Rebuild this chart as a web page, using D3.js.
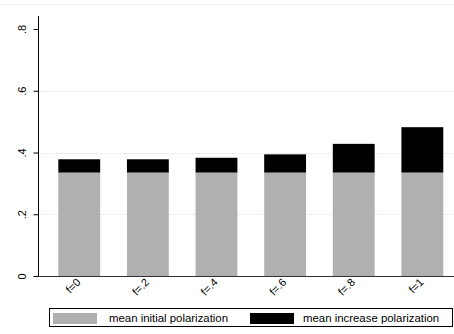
<!DOCTYPE html>
<html>
<head>
<meta charset="utf-8">
<script src="https://cdn.jsdelivr.net/npm/d3@7"></script>
<style>
  body { margin: 0; background: #fff; }
  svg { display: block; font-family: "Liberation Sans", Arial, sans-serif; }
</style>
</head>
<body>
<svg id="chart" width="454" height="334"></svg>
<script>
var categories = ["f=0", "f=.2", "f=.4", "f=.6", "f=.8", "f=1"];
var initialPol = [0.335, 0.335, 0.335, 0.335, 0.335, 0.335];
var increasePol = [0.043, 0.043, 0.048, 0.059, 0.093, 0.147];
var yTicks = [0, 0.2, 0.4, 0.6, 0.8];
var yTickLabels = ["0", ".2", ".4", ".6", ".8"];
var seriesNames = ["mean initial polarization", "mean increase polarization"];
var colors = ["#b0b0b0", "#000000"];

var svg = d3.select("#chart");
var width = +svg.attr("width");

var data = categories.map(function(c, i) {
    return { cat: c, initial: initialPol[i], increase: increasePol[i] };
});
var stack = d3.stack().keys(["initial", "increase"])(data);

var x = d3.scaleBand()
    .domain(categories)
    .range([44.6, 457])
    .paddingInner(0.39)
    .paddingOuter(0.2);

var y = d3.scaleLinear()
    .domain([0, 0.8])
    .range([276, 29]);

// faint top border line
svg.append("line")
    .attr("x1", 0).attr("x2", width)
    .attr("y1", 4.5).attr("y2", 4.5)
    .attr("stroke", "#eef3f3");

// gridlines
svg.append("g")
    .selectAll("line")
    .data(yTicks.filter(function(d) { return d > 0 && d < 0.8; }))
    .join("line")
    .attr("x1", 38).attr("x2", width)
    .attr("y1", function(d) { return Math.round(y(d)) + 0.5; })
    .attr("y2", function(d) { return Math.round(y(d)) + 0.5; })
    .attr("stroke", "#e8f0f0");

// bars
svg.append("g")
    .selectAll("g")
    .data(stack)
    .join("g")
    .attr("fill", function(d, i) { return colors[i]; })
    .selectAll("rect")
    .data(function(d) { return d; })
    .join("rect")
    .attr("x", function(d) { return x(d.data.cat); })
    .attr("y", function(d) { return y(d[1]); })
    .attr("width", x.bandwidth())
    .attr("height", function(d) { return y(d[0]) - y(d[1]); });

// Y axis
var yAxis = svg.append("g")
    .attr("transform", "translate(38.5,0)")
    .call(d3.axisLeft(y).tickValues(yTicks)
        .tickFormat(function(d, i) { return yTickLabels[i]; })
        .tickSize(5).tickPadding(4));
yAxis.select(".domain").attr("d", "M0,16V276.5");
yAxis.selectAll(".tick line").attr("stroke", "#000");
yAxis.selectAll(".tick text")
    .attr("transform", "rotate(-90)")
    .attr("x", 0).attr("y", -13)
    .attr("dy", 0)
    .attr("text-anchor", "middle")
    .attr("fill", "#000")
    .style("font-size", "11px");

// X axis
var xAxis = svg.append("g")
    .attr("transform", "translate(0,276.5)")
    .call(d3.axisBottom(x).tickSize(0).tickPadding(0));
xAxis.select(".domain").attr("d", "M38,0H" + width).attr("stroke", "#333");
xAxis.selectAll(".tick text")
    .attr("transform", "translate(2,6.5) rotate(-45)")
    .attr("y", 0).attr("dy", 0)
    .attr("text-anchor", "end")
    .attr("fill", "#000")
    .style("font-size", "11px");

// legend
var legend = svg.append("g");
legend.append("rect")
    .attr("x", 49.5).attr("y", 308.5)
    .attr("width", 403).attr("height", 18)
    .attr("fill", "#fff")
    .attr("stroke", "#000");
var legendItems = [
    { sx: 53, tx: 109 },
    { sx: 250, tx: 303 }
];
legend.selectAll("g.item")
    .data(seriesNames)
    .join("g")
    .attr("class", "item")
    .each(function(name, i) {
        var g = d3.select(this);
        g.append("rect")
            .attr("x", legendItems[i].sx).attr("y", 313)
            .attr("width", 44).attr("height", 11)
            .attr("fill", colors[i]);
        g.append("text")
            .attr("x", legendItems[i].tx).attr("y", 322)
            .style("font-size", "11.4px")
            .text(name);
    });
</script>
</body>
</html>
